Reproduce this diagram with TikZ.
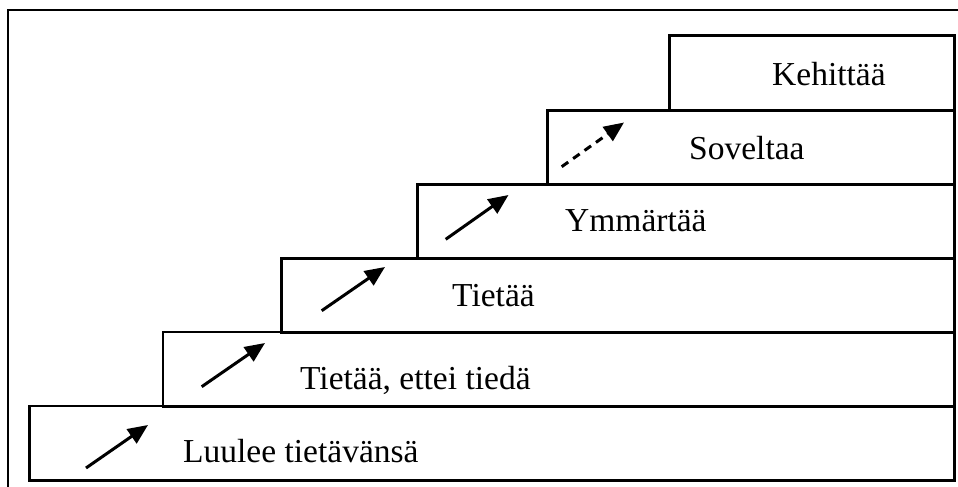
\documentclass[tikz,border=0pt]{standalone}
\usepackage{fontspec}
\setmainfont{Liberation Serif}
\usetikzlibrary{arrows.meta}
\begin{document}
\begin{tikzpicture}[x=1pt,y=-1pt,
  stair/.style={draw=black,line width=2.8pt,anchor=north west,inner sep=0pt,
    minimum height=74.5pt},
  lbl/.style={anchor=base west,inner sep=0pt,font=\fontsize{33.5}{38}\selectfont},
  rise/.style={line width=3pt,-{Triangle[length=20pt,width=17pt]}},
  riselater/.style={rise,dash pattern=on 8pt off 6pt}]
\useasboundingbox (0,0) rectangle (958,487);
\fill[white] (0,0) rectangle (958,487);
% outer frame, open to the right and below
\draw[line width=2.4pt] (8,500) -- (8,10) -- (970,10);
% the six steps, top to bottom
\node[stair,minimum width=285pt] (s6) at (668,34.3) {};
\node[stair,minimum width=407pt] (s5) at (546,108.7) {};
\node[stair,minimum width=537.3pt] (s4) at (415.7,182.7) {};
\node[stair,minimum width=673pt] (s3) at (280,256.7) {};
\node[stair,minimum width=791.5pt] (s2) at (161.5,330.5) {};
\node[stair,minimum width=925pt] (s1) at (28,404.5) {};
% labels
\node[lbl] (t1) at (183,462) {Luulee tietävänsä};
\node[lbl] (t2) at (300,389) {Tietää, ettei tiedä};
\node[lbl] (t3) at (452,306) {Tietää};
\node[lbl] (t4) at (565,231.7) {Ymmärtää};
\node[lbl] (t5) at (689,159) {Soveltaa};
\node[lbl] (t6) at (772,85) {Kehittää};
% arrows from one step to the next
\coordinate (a1) at (86,468);    \coordinate (b1) at (148,425);
\coordinate (a2) at (201.7,386.7); \coordinate (b2) at (265,343);
\coordinate (a3) at (321.7,310.7); \coordinate (b3) at (385,267);
\coordinate (a4) at (445.7,239.3); \coordinate (b4) at (508.5,195);
\coordinate (a5) at (561.7,166.7); \coordinate (b5) at (624,122.5);
\draw[rise] (a1) -- (b1);
\draw[rise] (a2) -- (b2);
\draw[rise] (a3) -- (b3);
\draw[rise] (a4) -- (b4);
\draw[riselater] (a5) -- (b5);
\end{tikzpicture}
\end{document}
